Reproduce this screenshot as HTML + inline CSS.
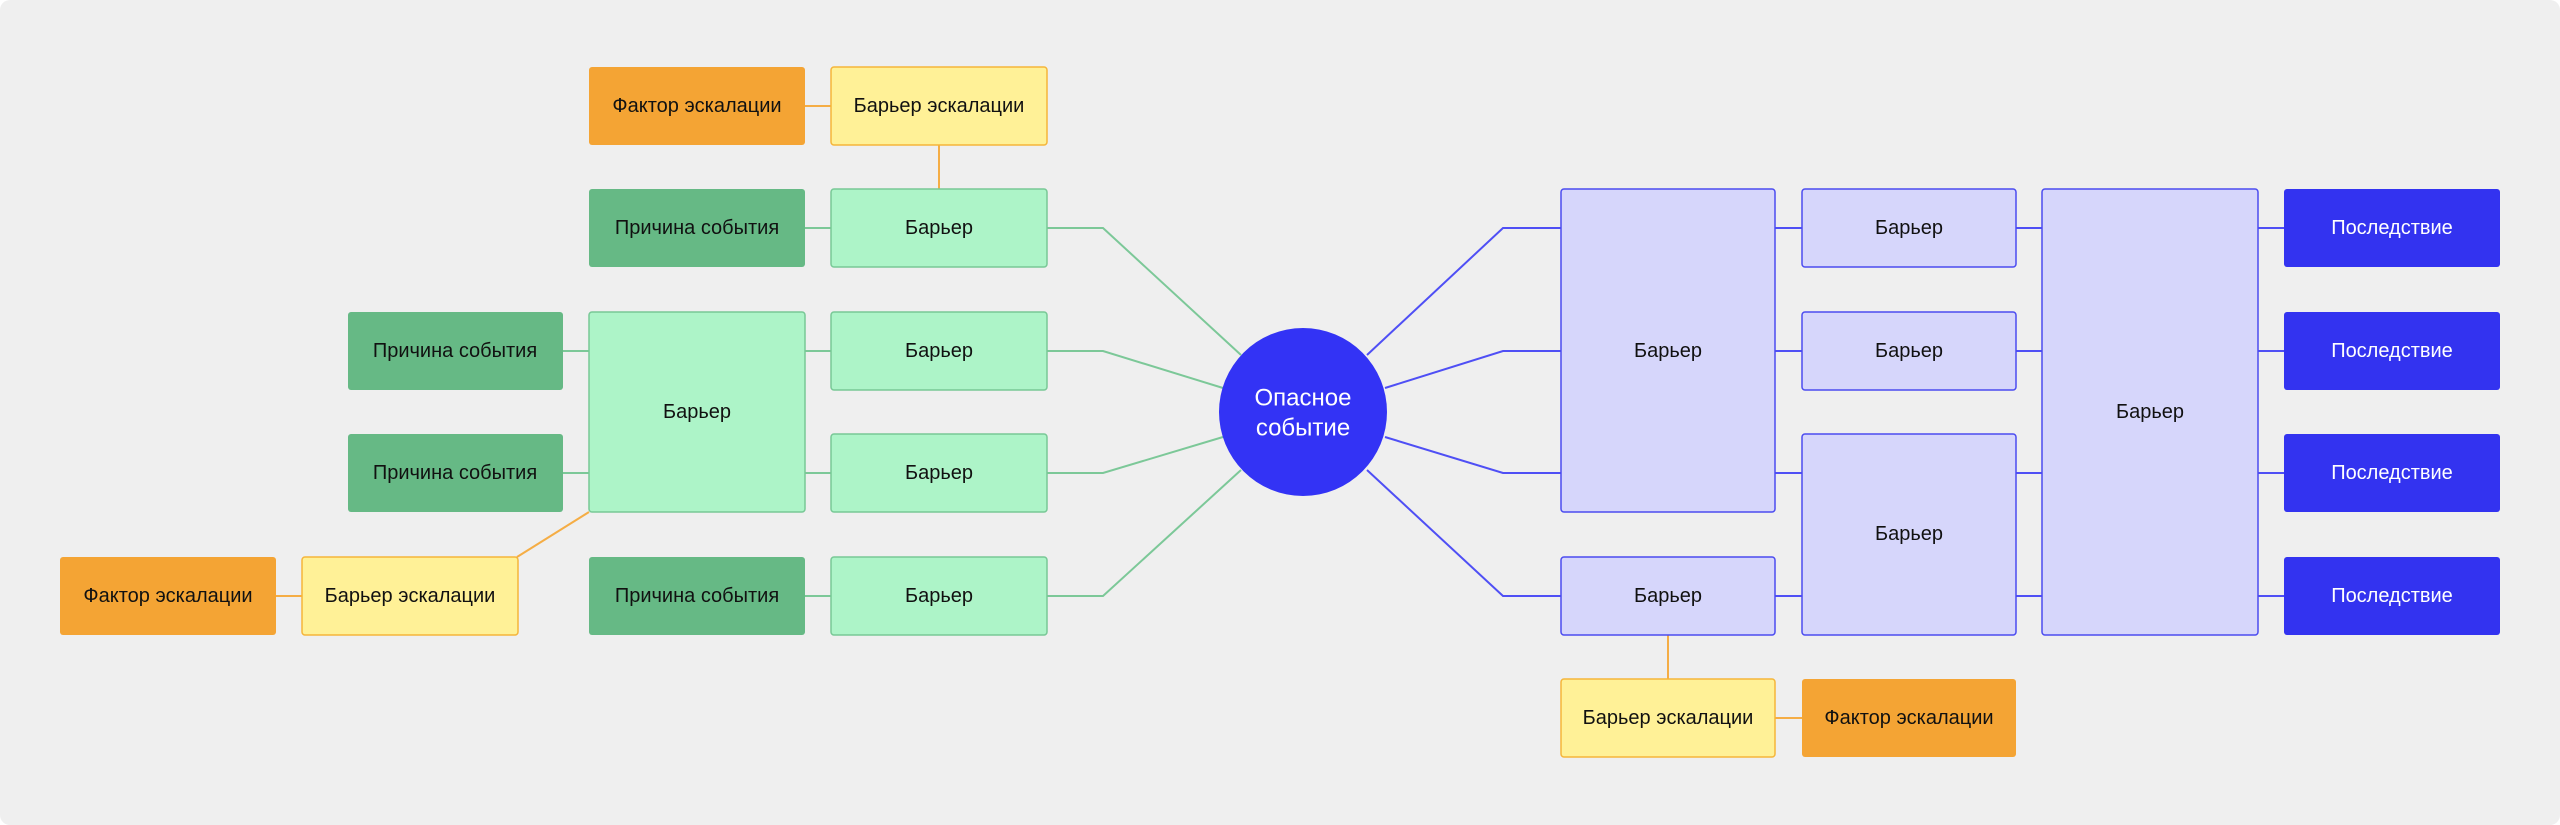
<!DOCTYPE html>
<html><head><meta charset="utf-8"><style>
html,body{margin:0;padding:0;background:#fff;}
svg{display:block;}
text{font-family:"Liberation Sans","DejaVu Sans",sans-serif;font-size:20px;text-anchor:middle;dominant-baseline:central;fill:#111;}
text.w{fill:#fff;}
</style></head><body>
<svg width="2560" height="825" viewBox="0 0 2560 825" xmlns="http://www.w3.org/2000/svg">
<rect x="0" y="0" width="2560" height="825" rx="10" fill="#efefef"/>
<g stroke="#7cc898" stroke-width="2" fill="none">
<polyline points="1047,228 1103,228 1241,355"/>
<polyline points="1047,351 1103,351 1223,388"/>
<polyline points="1047,473 1103,473 1223,437"/>
<polyline points="1047,596 1103,596 1241,470"/>
<line x1="805" y1="228" x2="831" y2="228"/>
<line x1="563" y1="351" x2="589" y2="351"/>
<line x1="563" y1="473" x2="589" y2="473"/>
<line x1="805" y1="351" x2="831" y2="351"/>
<line x1="805" y1="473" x2="831" y2="473"/>
<line x1="805" y1="596" x2="831" y2="596"/>
</g>
<g stroke="#f5ad45" stroke-width="2" fill="none">
<line x1="805" y1="106" x2="831" y2="106"/>
<line x1="939" y1="145" x2="939" y2="189"/>
<line x1="276" y1="596" x2="302" y2="596"/>
<line x1="517" y1="557" x2="589" y2="512"/>
<line x1="1668" y1="635" x2="1668" y2="679"/>
<line x1="1775" y1="718" x2="1802" y2="718"/>
</g>
<g stroke="#4f4ff5" stroke-width="2" fill="none">
<polyline points="1367,355 1503,228 1561,228"/>
<polyline points="1385,388 1503,351 1561,351"/>
<polyline points="1385,437 1503,473 1561,473"/>
<polyline points="1367,470 1503,596 1561,596"/>
<line x1="1775" y1="228" x2="1802" y2="228"/>
<line x1="1775" y1="351" x2="1802" y2="351"/>
<line x1="1775" y1="473" x2="1802" y2="473"/>
<line x1="1775" y1="596" x2="1802" y2="596"/>
<line x1="2016" y1="228" x2="2042" y2="228"/>
<line x1="2016" y1="351" x2="2042" y2="351"/>
<line x1="2016" y1="473" x2="2042" y2="473"/>
<line x1="2016" y1="596" x2="2042" y2="596"/>
<line x1="2258" y1="228" x2="2284" y2="228"/>
<line x1="2258" y1="351" x2="2284" y2="351"/>
<line x1="2258" y1="473" x2="2284" y2="473"/>
<line x1="2258" y1="596" x2="2284" y2="596"/>
</g>
<g fill="#f4a434">
<rect x="589" y="67" width="216" height="78" rx="3"/>
<rect x="60" y="557" width="216" height="78" rx="3"/>
<rect x="1802" y="679" width="214" height="78" rx="3"/>
</g>
<g fill="#fff197" stroke="#f5b53a" stroke-width="1.5">
<rect x="831" y="67" width="216" height="78" rx="3"/>
<rect x="302" y="557" width="216" height="78" rx="3"/>
<rect x="1561" y="679" width="214" height="78" rx="3"/>
</g>
<g fill="#66b985">
<rect x="589" y="189" width="216" height="78" rx="3"/>
<rect x="348" y="312" width="215" height="78" rx="3"/>
<rect x="348" y="434" width="215" height="78" rx="3"/>
<rect x="589" y="557" width="216" height="78" rx="3"/>
</g>
<g fill="#adf4c8" stroke="#78c896" stroke-width="1.5">
<rect x="831" y="189" width="216" height="78" rx="3"/>
<rect x="589" y="312" width="216" height="200" rx="3"/>
<rect x="831" y="312" width="216" height="78" rx="3"/>
<rect x="831" y="434" width="216" height="78" rx="3"/>
<rect x="831" y="557" width="216" height="78" rx="3"/>
</g>
<g fill="#d6d6fb" stroke="#4b4bf0" stroke-width="1.5">
<rect x="1561" y="189" width="214" height="323" rx="3"/>
<rect x="1561" y="557" width="214" height="78" rx="3"/>
<rect x="1802" y="189" width="214" height="78" rx="3"/>
<rect x="1802" y="312" width="214" height="78" rx="3"/>
<rect x="1802" y="434" width="214" height="201" rx="3"/>
<rect x="2042" y="189" width="216" height="446" rx="3"/>
</g>
<g fill="#3333f0">
<rect x="2284" y="189" width="216" height="78" rx="3"/>
<rect x="2284" y="312" width="216" height="78" rx="3"/>
<rect x="2284" y="434" width="216" height="78" rx="3"/>
<rect x="2284" y="557" width="216" height="78" rx="3"/>
</g>
<circle cx="1303" cy="412" r="84" fill="#3333f5"/>
<text x="697" y="106">Фактор эскалации</text>
<text x="939" y="106">Барьер эскалации</text>
<text x="168" y="596">Фактор эскалации</text>
<text x="410" y="596">Барьер эскалации</text>
<text x="1668" y="718">Барьер эскалации</text>
<text x="1909" y="718">Фактор эскалации</text>
<text x="697" y="228">Причина события</text>
<text x="455" y="351">Причина события</text>
<text x="455" y="473">Причина события</text>
<text x="697" y="596">Причина события</text>
<text x="939" y="228">Барьер</text>
<text x="697" y="412">Барьер</text>
<text x="939" y="351">Барьер</text>
<text x="939" y="473">Барьер</text>
<text x="939" y="596">Барьер</text>
<text x="1668" y="351">Барьер</text>
<text x="1668" y="596">Барьер</text>
<text x="1909" y="228">Барьер</text>
<text x="1909" y="351">Барьер</text>
<text x="1909" y="534">Барьер</text>
<text x="2150" y="412">Барьер</text>
<text class="w" x="2392" y="228">Последствие</text>
<text class="w" x="2392" y="351">Последствие</text>
<text class="w" x="2392" y="473">Последствие</text>
<text class="w" x="2392" y="596">Последствие</text>
<text class="w" x="1303" y="398" style="font-size:24px">Опасное</text>
<text class="w" x="1303" y="428" style="font-size:24px">событие</text>
</svg>
</body></html>
